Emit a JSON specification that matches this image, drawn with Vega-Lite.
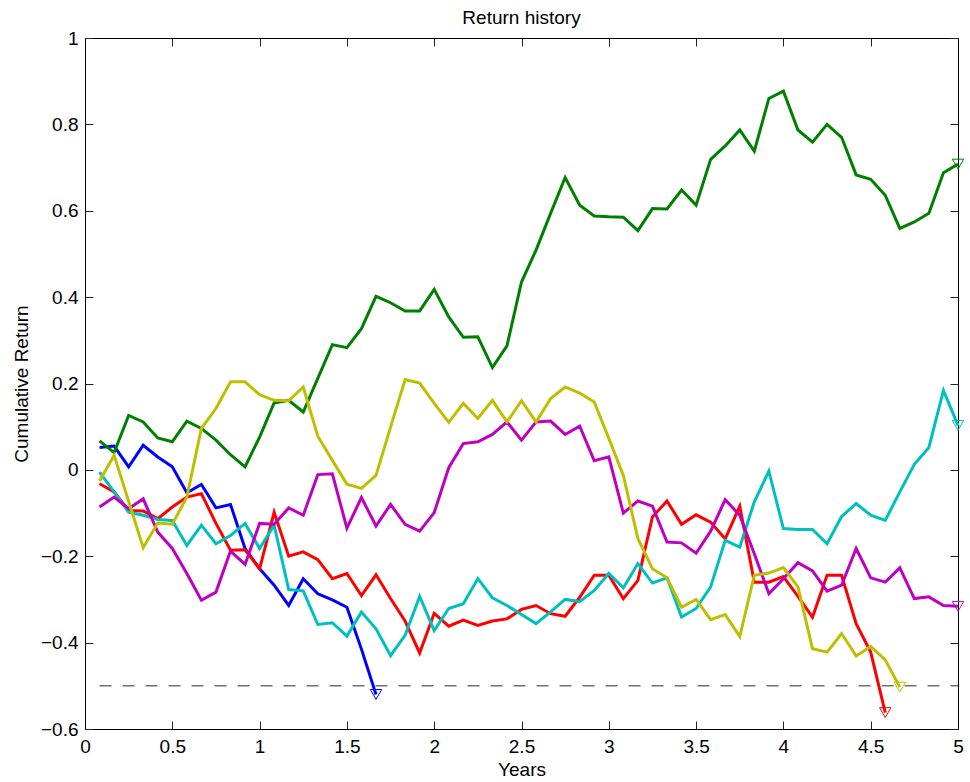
{
  "$schema": "https://vega.github.io/schema/vega-lite/v6.json",
  "width": 873,
  "height": 691,
  "autosize": {"type": "none"},
  "padding": {"left": 85, "top": 38, "right": 12, "bottom": 53},
  "background": "white",
  "title": {"text": "Return history", "fontSize": 19, "fontWeight": "normal", "font": "Liberation Sans", "color": "black", "offset": 1},
  "config": {
    "view": {"stroke": null},
    "axis": {
      "grid": false,
      "domainColor": "black",
      "domainWidth": 1,
      "tickColor": "#222222",
      "tickWidth": 1,
      "tickSize": -8,
      "format": "~g",
      "labelFont": "Liberation Sans",
      "labelFontSize": 19,
      "labelColor": "black",
      "titleFont": "Liberation Sans",
      "titleFontSize": 19,
      "titleFontWeight": "normal",
      "titleColor": "black"
    }
  },
  "datasets": {
    "ret": [
      {"t": 0.0833, "b": 0.052, "g": 0.067, "r": -0.032, "c": -0.005, "m": -0.086, "y": -0.026},
      {"t": 0.1667, "b": 0.055, "g": 0.040, "r": -0.051, "c": -0.051, "m": -0.063, "y": 0.034},
      {"t": 0.25, "b": 0.007, "g": 0.126, "r": -0.094, "c": -0.098, "m": -0.090, "y": -0.073},
      {"t": 0.3333, "b": 0.057, "g": 0.111, "r": -0.095, "c": -0.105, "m": -0.067, "y": -0.180},
      {"t": 0.4167, "b": 0.030, "g": 0.074, "r": -0.113, "c": -0.115, "m": -0.144, "y": -0.123},
      {"t": 0.5, "b": 0.007, "g": 0.065, "r": -0.086, "c": -0.117, "m": -0.182, "y": -0.126},
      {"t": 0.5833, "b": -0.053, "g": 0.113, "r": -0.063, "c": -0.175, "m": -0.240, "y": -0.063},
      {"t": 0.6667, "b": -0.034, "g": 0.096, "r": -0.055, "c": -0.128, "m": -0.302, "y": 0.096},
      {"t": 0.75, "b": -0.088, "g": 0.069, "r": -0.124, "c": -0.171, "m": -0.283, "y": 0.142},
      {"t": 0.8333, "b": -0.080, "g": 0.035, "r": -0.186, "c": -0.152, "m": -0.188, "y": 0.204},
      {"t": 0.9167, "b": -0.182, "g": 0.007, "r": -0.185, "c": -0.124, "m": -0.219, "y": 0.204},
      {"t": 1, "b": -0.229, "g": 0.076, "r": -0.229, "c": -0.182, "m": -0.124, "y": 0.174},
      {"t": 1.0833, "b": -0.267, "g": 0.155, "r": -0.098, "c": -0.128, "m": -0.126, "y": 0.161},
      {"t": 1.1667, "b": -0.314, "g": 0.161, "r": -0.200, "c": -0.277, "m": -0.088, "y": 0.160},
      {"t": 1.25, "b": -0.252, "g": 0.134, "r": -0.190, "c": -0.280, "m": -0.105, "y": 0.192},
      {"t": 1.3333, "b": -0.287, "g": 0.212, "r": -0.208, "c": -0.358, "m": -0.011, "y": 0.078},
      {"t": 1.4167, "b": -0.301, "g": 0.290, "r": -0.252, "c": -0.354, "m": -0.009, "y": 0.022},
      {"t": 1.5, "b": -0.318, "g": 0.283, "r": -0.240, "c": -0.385, "m": -0.135, "y": -0.033},
      {"t": 1.5833, "b": -0.415, "g": 0.327, "r": -0.291, "c": -0.329, "m": -0.064, "y": -0.043},
      {"t": 1.6667, "b": -0.520, "g": 0.402, "r": -0.243, "c": -0.368, "m": -0.130, "y": -0.013},
      {"t": 1.75, "g": 0.387, "r": -0.298, "c": -0.430, "m": -0.080, "y": 0.099},
      {"t": 1.8333, "g": 0.368, "r": -0.350, "c": -0.383, "m": -0.126, "y": 0.209},
      {"t": 1.9167, "g": 0.368, "r": -0.424, "c": -0.293, "m": -0.142, "y": 0.201},
      {"t": 2, "g": 0.418, "r": -0.332, "c": -0.372, "m": -0.099, "y": 0.154},
      {"t": 2.0833, "g": 0.354, "r": -0.362, "c": -0.321, "m": 0.005, "y": 0.110},
      {"t": 2.1667, "g": 0.307, "r": -0.348, "c": -0.310, "m": 0.061, "y": 0.154},
      {"t": 2.25, "g": 0.308, "r": -0.360, "c": -0.252, "m": 0.065, "y": 0.119},
      {"t": 2.3333, "g": 0.237, "r": -0.350, "c": -0.296, "m": 0.082, "y": 0.161},
      {"t": 2.4167, "g": 0.287, "r": -0.345, "c": -0.314, "m": 0.111, "y": 0.111},
      {"t": 2.5, "g": 0.435, "r": -0.323, "c": -0.335, "m": 0.069, "y": 0.160},
      {"t": 2.5833, "g": 0.509, "r": -0.314, "c": -0.356, "m": 0.111, "y": 0.111},
      {"t": 2.6667, "g": 0.594, "r": -0.333, "c": -0.329, "m": 0.113, "y": 0.165},
      {"t": 2.75, "g": 0.677, "r": -0.339, "c": -0.300, "m": 0.082, "y": 0.192},
      {"t": 2.8333, "g": 0.613, "r": -0.295, "c": -0.305, "m": 0.101, "y": 0.178},
      {"t": 2.9167, "g": 0.588, "r": -0.244, "c": -0.279, "m": 0.021, "y": 0.157},
      {"t": 3, "g": 0.586, "r": -0.244, "c": -0.240, "m": 0.030, "y": 0.073},
      {"t": 3.0833, "g": 0.585, "r": -0.298, "c": -0.273, "m": -0.100, "y": -0.013},
      {"t": 3.1667, "g": 0.554, "r": -0.256, "c": -0.217, "m": -0.072, "y": -0.159},
      {"t": 3.25, "g": 0.605, "r": -0.109, "c": -0.262, "m": -0.084, "y": -0.229},
      {"t": 3.3333, "g": 0.604, "r": -0.072, "c": -0.250, "m": -0.167, "y": -0.250},
      {"t": 3.4167, "g": 0.648, "r": -0.126, "c": -0.341, "m": -0.169, "y": -0.318},
      {"t": 3.5, "g": 0.613, "r": -0.104, "c": -0.321, "m": -0.193, "y": -0.300},
      {"t": 3.5833, "g": 0.719, "r": -0.121, "c": -0.271, "m": -0.142, "y": -0.347},
      {"t": 3.6667, "g": 0.750, "r": -0.160, "c": -0.163, "m": -0.069, "y": -0.335},
      {"t": 3.75, "g": 0.787, "r": -0.084, "c": -0.179, "m": -0.105, "y": -0.386},
      {"t": 3.8333, "g": 0.738, "r": -0.260, "c": -0.074, "m": -0.194, "y": -0.244},
      {"t": 3.9167, "g": 0.860, "r": -0.260, "c": -0.003, "m": -0.287, "y": -0.239},
      {"t": 4, "g": 0.877, "r": -0.247, "c": -0.136, "m": -0.252, "y": -0.226},
      {"t": 4.0833, "g": 0.787, "r": -0.293, "c": -0.138, "m": -0.215, "y": -0.271},
      {"t": 4.1667, "g": 0.759, "r": -0.341, "c": -0.138, "m": -0.234, "y": -0.414},
      {"t": 4.25, "g": 0.800, "r": -0.244, "c": -0.171, "m": -0.281, "y": -0.422},
      {"t": 4.3333, "g": 0.770, "r": -0.244, "c": -0.108, "m": -0.267, "y": -0.379},
      {"t": 4.4167, "g": 0.683, "r": -0.356, "c": -0.078, "m": -0.182, "y": -0.431},
      {"t": 4.5, "g": 0.673, "r": -0.422, "c": -0.105, "m": -0.250, "y": -0.409},
      {"t": 4.5833, "g": 0.636, "r": -0.562, "c": -0.117, "m": -0.260, "y": -0.440},
      {"t": 4.6667, "g": 0.559, "c": -0.051, "m": -0.227, "y": -0.503},
      {"t": 4.75, "g": 0.574, "c": 0.013, "m": -0.298},
      {"t": 4.8333, "g": 0.594, "c": 0.052, "m": -0.294},
      {"t": 4.9167, "g": 0.688, "c": 0.184, "m": -0.314},
      {"t": 5, "g": 0.708, "c": 0.103, "m": -0.316}
    ],
    "ref": [{"x1": 0.0833, "x2": 5, "v": -0.5}]
  },
  "layer": [
    {
      "data": {"name": "ret"},
      "transform": [
        {"fold": ["b", "g", "r", "c", "m", "y"], "as": ["s", "v"]},
        {"filter": "isValid(datum.v)"}
      ],
      "mark": {"type": "line", "strokeWidth": 3, "strokeJoin": "miter", "clip": false},
      "encoding": {
        "x": {"field": "t", "type": "quantitative", "title": "Years",
          "scale": {"domain": [0, 5], "nice": false, "zero": false},
          "axis": {"orient": "bottom", "values": [0, 0.5, 1, 1.5, 2, 2.5, 3, 3.5, 4, 4.5, 5], "labelPadding": 16, "titlePadding": 4, "labelFlush": false}},
        "y": {"field": "v", "type": "quantitative", "title": "Cumulative Return",
          "scale": {"domain": [-0.6, 1], "nice": false, "zero": false},
          "axis": {"orient": "left", "values": [-0.6, -0.4, -0.2, 0, 0.2, 0.4, 0.6, 0.8, 1], "labelPadding": 15, "titlePadding": 9, "labelFlush": false}},
        "color": {"field": "s", "type": "nominal", "legend": null,
          "scale": {"domain": ["b", "g", "r", "c", "m", "y"], "range": ["#0000ff", "#008000", "#ff0000", "#00bfbf", "#bf00bf", "#bfbf00"]}}
      }
    },
    {
      "data": {"name": "ret"},
      "transform": [
        {"fold": ["b", "g", "r", "c", "m", "y"], "as": ["s", "v"]},
        {"filter": "isValid(datum.v)"},
        {"joinaggregate": [{"op": "max", "field": "t", "as": "tmax"}], "groupby": ["s"]},
        {"filter": "datum.t == datum.tmax"}
      ],
      "mark": {"type": "point", "shape": "triangle-down", "filled": false, "size": 130, "strokeWidth": 1, "opacity": 1, "clip": false},
      "encoding": {
        "x": {"field": "t", "type": "quantitative", "scale": {"domain": [0, 5], "nice": false, "zero": false}, "axis": null},
        "y": {"field": "v", "type": "quantitative", "scale": {"domain": [-0.6, 1], "nice": false, "zero": false}, "axis": null},
        "color": {"field": "s", "type": "nominal", "legend": null,
          "scale": {"domain": ["b", "g", "r", "c", "m", "y"], "range": ["#0000ff", "#008000", "#ff0000", "#00bfbf", "#bf00bf", "#bfbf00"]}}
      }
    },
    {
      "data": {"name": "ref"},
      "mark": {"type": "rule", "color": "#707070", "strokeWidth": 1.5, "strokeDash": [12, 11]},
      "encoding": {
        "x": {"field": "x1", "type": "quantitative", "scale": {"domain": [0, 5], "nice": false, "zero": false},
          "axis": {"orient": "top", "values": [0, 0.5, 1, 1.5, 2, 2.5, 3, 3.5, 4, 4.5, 5], "labels": false, "title": null}},
        "x2": {"field": "x2"},
        "y": {"field": "v", "type": "quantitative", "scale": {"domain": [-0.6, 1], "nice": false, "zero": false},
          "axis": {"orient": "right", "values": [-0.6, -0.4, -0.2, 0, 0.2, 0.4, 0.6, 0.8, 1], "labels": false, "title": null}}
      }
    }
  ],
  "resolve": {"axis": {"x": "independent", "y": "independent"}}
}
